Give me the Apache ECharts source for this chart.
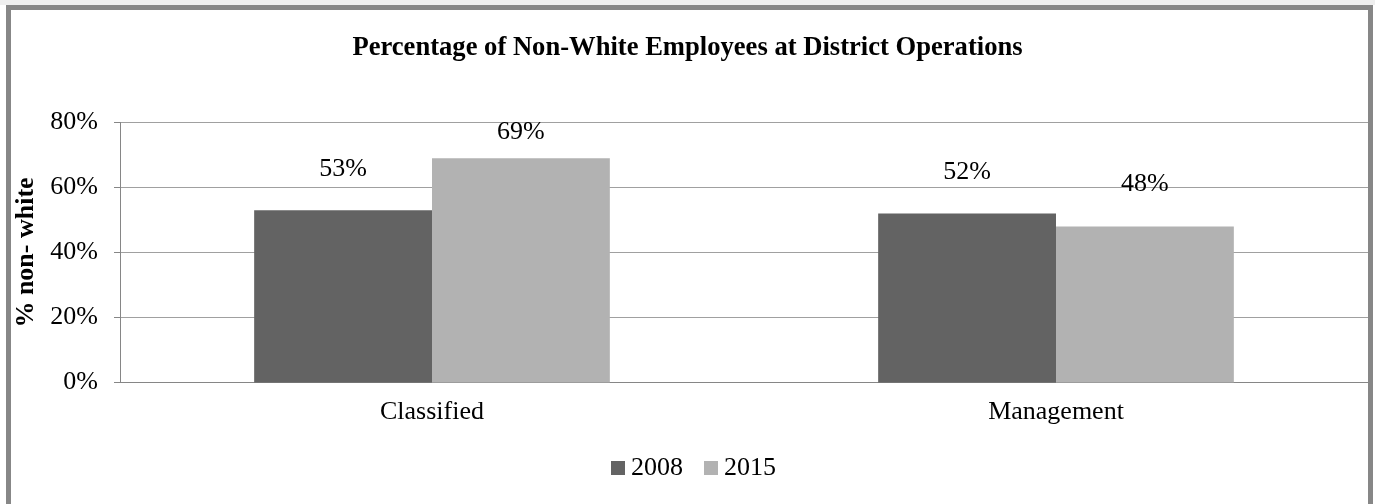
<!DOCTYPE html>
<html>
<head>
<meta charset="utf-8">
<script src="https://cdn.jsdelivr.net/npm/echarts@6/dist/echarts.min.js"></script>
<style>
  html, body { margin: 0; padding: 0; background: #ffffff; }
  #topstrip { position: absolute; left: 0; top: 0; width: 1375px; height: 5px; background: #efefef; }
  #frame { position: absolute; left: 6px; top: 5px; width: 1367px; height: 600px;
           box-sizing: border-box; border: 5px solid #878787; background: #ffffff; }
  #chart { position: absolute; left: 0; top: 0; width: 1375px; height: 504px; }
</style>
</head>
<body>
<div id="topstrip"></div>
<div id="frame"></div>
<div id="chart"></div>
<script>
// Share of non-white employees by job group, 2008 vs 2015
const categories = ['Classified', 'Management'];
const seriesNames = ['2008', '2015'];
const values2008 = [53, 52];
const values2015 = [69, 48];
const yTicks = [0, 20, 40, 60, 80];

const FONT = '"Liberation Serif", "Times New Roman", serif';

const chart = echarts.init(document.getElementById('chart'), null, { renderer: 'canvas' });

function barLabel(distance) {
  return {
    show: true,
    position: 'top',
    distance: distance,
    formatter: p => p.value + '%',
    fontFamily: FONT,
    fontSize: 26,
    color: '#000000'
  };
}

chart.setOption({
  backgroundColor: 'transparent',
  animation: false,
  title: {
    text: 'Percentage of Non-White Employees at District Operations',
    left: 'center',
    top: 30,
    textStyle: { fontFamily: FONT, fontWeight: 'bold', fontSize: 26.6, color: '#000000' }
  },
  legend: {
    data: seriesNames,
    left: 606,
    top: 450,
    icon: 'rect',
    itemWidth: 14,
    itemHeight: 14,
    itemGap: 21,
    textStyle: { fontFamily: FONT, fontSize: 26, color: '#000000', padding: [0, 0, 0, 1] }
  },
  grid: { left: 120, right: 7, top: 122.5, bottom: 121.5, containLabel: false },
  xAxis: {
    type: 'category',
    data: categories,
    axisLine: { lineStyle: { color: '#868686', width: 1 } },
    axisTick: { show: false },
    axisLabel: { fontFamily: FONT, fontSize: 26, color: '#000000', margin: 17 }
  },
  yAxis: {
    type: 'value',
    min: yTicks[0],
    max: yTicks[yTicks.length - 1],
    interval: 20,
    name: '% non- white',
    nameLocation: 'middle',
    nameGap: 78,
    nameTextStyle: { fontFamily: FONT, fontWeight: 'bold', fontSize: 26, color: '#000000' },
    axisLine: { show: true, lineStyle: { color: '#868686', width: 1 } },
    axisTick: { show: true, length: 6, lineStyle: { color: '#868686' } },
    splitLine: { lineStyle: { color: '#a0a0a0', width: 1 } },
    axisLabel: {
      fontFamily: FONT, fontSize: 26, color: '#000000', margin: 22,
      formatter: v => v + '%'
    }
  },
  series: [
    {
      name: seriesNames[0],
      type: 'bar',
      data: values2008,
      barGap: '0%',
      barCategoryGap: '43%',
      itemStyle: { color: '#636363' },
      label: barLabel(28)
    },
    {
      name: seriesNames[1],
      type: 'bar',
      data: values2015.map((v, i) => i === 0 ? { value: v, label: { distance: 13 } } : v),
      itemStyle: { color: '#b2b2b2' },
      label: barLabel(29)
    }
  ]
});
</script>
</body>
</html>
